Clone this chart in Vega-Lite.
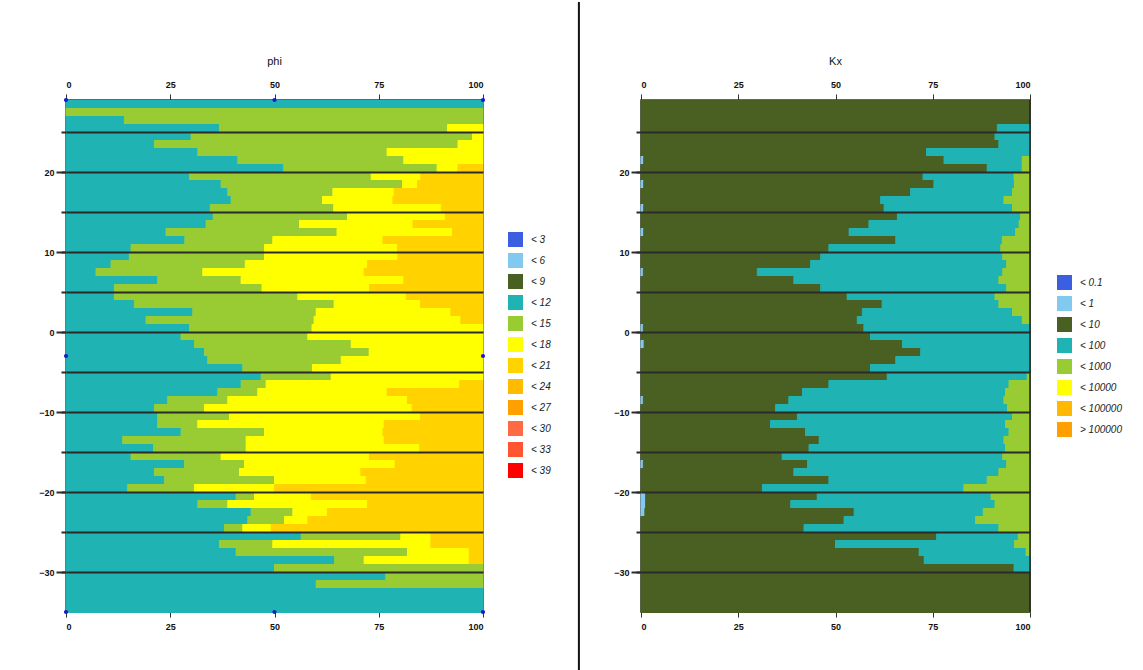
{
"$schema":"https://vega.github.io/schema/vega-lite/v6.json",
"background":"white",
"padding":{"left":37,"top":0,"right":0,"bottom":0},
"bounds":"flush",
"spacing":158,
"datasets":{
"phi":[
{"d":28,"c":"< 12","v":100},
{"d":27,"c":"< 15","v":100},
{"d":26,"c":"< 12","v":14},{"d":26,"c":"< 15","v":86},
{"d":25,"c":"< 12","v":36.8},{"d":25,"c":"< 15","v":54.7},{"d":25,"c":"< 18","v":8.5},
{"d":24,"c":"< 12","v":30},{"d":24,"c":"< 15","v":67.5},{"d":24,"c":"< 18","v":2.5},
{"d":23,"c":"< 12","v":21.2},{"d":23,"c":"< 15","v":72.8},{"d":23,"c":"< 18","v":6},
{"d":22,"c":"< 12","v":31.6},{"d":22,"c":"< 15","v":45.4},{"d":22,"c":"< 18","v":23},
{"d":21,"c":"< 12","v":41.2},{"d":21,"c":"< 15","v":39.8},{"d":21,"c":"< 18","v":19},
{"d":20,"c":"< 12","v":52.2},{"d":20,"c":"< 15","v":36.8},{"d":20,"c":"< 18","v":5},{"d":20,"c":"< 21","v":6},
{"d":19,"c":"< 12","v":29.6},{"d":19,"c":"< 15","v":43.6},{"d":19,"c":"< 18","v":11.9},{"d":19,"c":"< 21","v":14.9},
{"d":18,"c":"< 12","v":37.2},{"d":18,"c":"< 15","v":43.5},{"d":18,"c":"< 18","v":3.6},{"d":18,"c":"< 21","v":15.7},
{"d":17,"c":"< 12","v":38.8},{"d":17,"c":"< 15","v":25.2},{"d":17,"c":"< 18","v":14.7},{"d":17,"c":"< 21","v":21.3},
{"d":16,"c":"< 12","v":39.6},{"d":16,"c":"< 15","v":21.9},{"d":16,"c":"< 18","v":16.9},{"d":16,"c":"< 21","v":21.6},
{"d":15,"c":"< 12","v":34.6},{"d":15,"c":"< 15","v":29.6},{"d":15,"c":"< 18","v":25.8},{"d":15,"c":"< 21","v":10},
{"d":14,"c":"< 12","v":35.3},{"d":14,"c":"< 15","v":32.2},{"d":14,"c":"< 18","v":23.5},{"d":14,"c":"< 21","v":9},
{"d":13,"c":"< 12","v":33.6},{"d":13,"c":"< 15","v":22.4},{"d":13,"c":"< 18","v":27.2},{"d":13,"c":"< 21","v":16.8},
{"d":12,"c":"< 12","v":24},{"d":12,"c":"< 15","v":41},{"d":12,"c":"< 18","v":27.7},{"d":12,"c":"< 21","v":7.3},
{"d":11,"c":"< 12","v":28.5},{"d":11,"c":"< 15","v":21.1},{"d":11,"c":"< 18","v":26.4},{"d":11,"c":"< 21","v":24},
{"d":10,"c":"< 12","v":15.6},{"d":10,"c":"< 15","v":32},{"d":10,"c":"< 18","v":31.9},{"d":10,"c":"< 21","v":20.5},
{"d":9,"c":"< 12","v":15.2},{"d":9,"c":"< 15","v":32.4},{"d":9,"c":"< 18","v":32},{"d":9,"c":"< 21","v":20.4},
{"d":8,"c":"< 12","v":10.8},{"d":8,"c":"< 15","v":32.2},{"d":8,"c":"< 18","v":29.3},{"d":8,"c":"< 21","v":27.7},
{"d":7,"c":"< 12","v":7.2},{"d":7,"c":"< 15","v":25.6},{"d":7,"c":"< 18","v":38.7},{"d":7,"c":"< 21","v":28.5},
{"d":6,"c":"< 12","v":22},{"d":6,"c":"< 15","v":20},{"d":6,"c":"< 18","v":39},{"d":6,"c":"< 21","v":19},
{"d":5,"c":"< 12","v":11.6},{"d":5,"c":"< 15","v":35.4},{"d":5,"c":"< 18","v":25.8},{"d":5,"c":"< 21","v":27.2},
{"d":4,"c":"< 12","v":11.6},{"d":4,"c":"< 15","v":44},{"d":4,"c":"< 18","v":26},{"d":4,"c":"< 21","v":18.4},
{"d":3,"c":"< 12","v":16.4},{"d":3,"c":"< 15","v":47.9},{"d":3,"c":"< 18","v":20.7},{"d":3,"c":"< 21","v":15},
{"d":2,"c":"< 12","v":30.4},{"d":2,"c":"< 15","v":29.6},{"d":2,"c":"< 18","v":32.3},{"d":2,"c":"< 21","v":7.7},
{"d":1,"c":"< 12","v":19.2},{"d":1,"c":"< 15","v":40.3},{"d":1,"c":"< 18","v":35.2},{"d":1,"c":"< 21","v":5.3},
{"d":0,"c":"< 12","v":29.6},{"d":0,"c":"< 15","v":29.4},{"d":0,"c":"< 18","v":41},
{"d":-1,"c":"< 12","v":27.6},{"d":-1,"c":"< 15","v":30.4},{"d":-1,"c":"< 18","v":42},
{"d":-2,"c":"< 12","v":30.8},{"d":-2,"c":"< 15","v":37.6},{"d":-2,"c":"< 18","v":31.6},
{"d":-3,"c":"< 12","v":33.2},{"d":-3,"c":"< 15","v":39.5},{"d":-3,"c":"< 18","v":27.3},
{"d":-4,"c":"< 12","v":34},{"d":-4,"c":"< 15","v":32},{"d":-4,"c":"< 18","v":34},
{"d":-5,"c":"< 12","v":42.4},{"d":-5,"c":"< 15","v":16.7},{"d":-5,"c":"< 18","v":40.9},
{"d":-6,"c":"< 12","v":46.8},{"d":-6,"c":"< 15","v":16.8},{"d":-6,"c":"< 18","v":36.4},
{"d":-7,"c":"< 12","v":42},{"d":-7,"c":"< 15","v":6},{"d":-7,"c":"< 18","v":46.4},{"d":-7,"c":"< 21","v":5.6},
{"d":-8,"c":"< 12","v":36.4},{"d":-8,"c":"< 15","v":9.6},{"d":-8,"c":"< 18","v":31},{"d":-8,"c":"< 21","v":23},
{"d":-9,"c":"< 12","v":24.4},{"d":-9,"c":"< 15","v":14.4},{"d":-9,"c":"< 18","v":43.1},{"d":-9,"c":"< 21","v":18.1},
{"d":-10,"c":"< 12","v":21.2},{"d":-10,"c":"< 15","v":12},{"d":-10,"c":"< 18","v":49.8},{"d":-10,"c":"< 21","v":17},
{"d":-11,"c":"< 12","v":22},{"d":-11,"c":"< 15","v":17.2},{"d":-11,"c":"< 18","v":45.8},{"d":-11,"c":"< 21","v":15},
{"d":-12,"c":"< 12","v":22},{"d":-12,"c":"< 15","v":9.6},{"d":-12,"c":"< 18","v":44.7},{"d":-12,"c":"< 21","v":23.7},
{"d":-13,"c":"< 12","v":27.6},{"d":-13,"c":"< 15","v":20},{"d":-13,"c":"< 18","v":28.4},{"d":-13,"c":"< 21","v":24},
{"d":-14,"c":"< 12","v":13.6},{"d":-14,"c":"< 15","v":29.6},{"d":-14,"c":"< 18","v":33.1},{"d":-14,"c":"< 21","v":23.7},
{"d":-15,"c":"< 12","v":21},{"d":-15,"c":"< 15","v":22.2},{"d":-15,"c":"< 18","v":41.6},{"d":-15,"c":"< 21","v":15.2},
{"d":-16,"c":"< 12","v":15.6},{"d":-16,"c":"< 15","v":21.6},{"d":-16,"c":"< 18","v":35.6},{"d":-16,"c":"< 21","v":27.2},
{"d":-17,"c":"< 12","v":28.4},{"d":-17,"c":"< 15","v":14.4},{"d":-17,"c":"< 18","v":36.1},{"d":-17,"c":"< 21","v":21.1},
{"d":-18,"c":"< 12","v":21.2},{"d":-18,"c":"< 15","v":20.4},{"d":-18,"c":"< 18","v":29.1},{"d":-18,"c":"< 21","v":29.3},
{"d":-19,"c":"< 12","v":23.6},{"d":-19,"c":"< 15","v":26.4},{"d":-19,"c":"< 18","v":22},{"d":-19,"c":"< 21","v":28},
{"d":-20,"c":"< 12","v":14.8},{"d":-20,"c":"< 15","v":16},{"d":-20,"c":"< 18","v":19.2},{"d":-20,"c":"< 21","v":50},
{"d":-21,"c":"< 12","v":40.8},{"d":-21,"c":"< 15","v":4.4},{"d":-21,"c":"< 18","v":13.6},{"d":-21,"c":"< 21","v":41.2},
{"d":-22,"c":"< 12","v":31.6},{"d":-22,"c":"< 15","v":7.2},{"d":-22,"c":"< 18","v":33.5},{"d":-22,"c":"< 21","v":27.7},
{"d":-23,"c":"< 12","v":44.4},{"d":-23,"c":"< 15","v":10},{"d":-23,"c":"< 18","v":8.3},{"d":-23,"c":"< 21","v":37.3},
{"d":-24,"c":"< 12","v":43.6},{"d":-24,"c":"< 15","v":8.8},{"d":-24,"c":"< 18","v":5.6},{"d":-24,"c":"< 21","v":42},
{"d":-25,"c":"< 12","v":38},{"d":-25,"c":"< 15","v":4.4},{"d":-25,"c":"< 18","v":6.8},{"d":-25,"c":"< 21","v":50.8},
{"d":-26,"c":"< 12","v":56.4},{"d":-26,"c":"< 15","v":23.9},{"d":-26,"c":"< 18","v":7.2},{"d":-26,"c":"< 21","v":12.5},
{"d":-27,"c":"< 12","v":36.8},{"d":-27,"c":"< 15","v":12.8},{"d":-27,"c":"< 18","v":37.9},{"d":-27,"c":"< 21","v":12.5},
{"d":-28,"c":"< 12","v":40.8},{"d":-28,"c":"< 15","v":41.1},{"d":-28,"c":"< 18","v":14.8},{"d":-28,"c":"< 21","v":3.3},
{"d":-29,"c":"< 12","v":64.4},{"d":-29,"c":"< 15","v":7.1},{"d":-29,"c":"< 18","v":25.2},{"d":-29,"c":"< 21","v":3.3},
{"d":-30,"c":"< 12","v":50},{"d":-30,"c":"< 15","v":50},
{"d":-31,"c":"< 12","v":76.7},{"d":-31,"c":"< 15","v":23.3},
{"d":-32,"c":"< 12","v":60},{"d":-32,"c":"< 15","v":40},
{"d":-33,"c":"< 12","v":100},
{"d":-34,"c":"< 12","v":100},
{"d":-35,"c":"< 12","v":100}
],
"kx":[
{"d":28,"c":"< 10","v":100},
{"d":27,"c":"< 10","v":100},
{"d":26,"c":"< 10","v":100},
{"d":25,"c":"< 10","v":91.6},{"d":25,"c":"< 100","v":8.4},
{"d":24,"c":"< 10","v":91},{"d":24,"c":"< 100","v":9},
{"d":23,"c":"< 10","v":92},{"d":23,"c":"< 100","v":8},
{"d":22,"c":"< 10","v":73.4},{"d":22,"c":"< 100","v":26.6},
{"d":21,"c":"< 1","v":0.7},{"d":21,"c":"< 10","v":77.2},{"d":21,"c":"< 100","v":20.1},{"d":21,"c":"< 1000","v":2},
{"d":20,"c":"< 10","v":89},{"d":20,"c":"< 100","v":9},{"d":20,"c":"< 1000","v":2},
{"d":19,"c":"< 10","v":72.5},{"d":19,"c":"< 100","v":23.4},{"d":19,"c":"< 1000","v":4.1},
{"d":18,"c":"< 1","v":0.7},{"d":18,"c":"< 10","v":74.6},{"d":18,"c":"< 100","v":20.7},{"d":18,"c":"< 1000","v":4},
{"d":17,"c":"< 10","v":69.3},{"d":17,"c":"< 100","v":26.2},{"d":17,"c":"< 1000","v":4.5},
{"d":16,"c":"< 10","v":61.6},{"d":16,"c":"< 100","v":31.7},{"d":16,"c":"< 1000","v":6.7},
{"d":15,"c":"< 1","v":0.7},{"d":15,"c":"< 10","v":61.8},{"d":15,"c":"< 100","v":33},{"d":15,"c":"< 1000","v":4.5},
{"d":14,"c":"< 10","v":65.9},{"d":14,"c":"< 100","v":31.7},{"d":14,"c":"< 1000","v":2.4},
{"d":13,"c":"< 10","v":58.6},{"d":13,"c":"< 100","v":38.6},{"d":13,"c":"< 1000","v":2.8},
{"d":12,"c":"< 1","v":0.7},{"d":12,"c":"< 10","v":52.8},{"d":12,"c":"< 100","v":42.8},{"d":12,"c":"< 1000","v":3.7},
{"d":11,"c":"< 10","v":65.5},{"d":11,"c":"< 100","v":27.4},{"d":11,"c":"< 1000","v":7.1},
{"d":10,"c":"< 10","v":48.3},{"d":10,"c":"< 100","v":44.2},{"d":10,"c":"< 1000","v":7.5},
{"d":9,"c":"< 10","v":46.2},{"d":9,"c":"< 100","v":46.8},{"d":9,"c":"< 1000","v":7},
{"d":8,"c":"< 10","v":43.6},{"d":8,"c":"< 100","v":50.4},{"d":8,"c":"< 1000","v":6},
{"d":7,"c":"< 1","v":0.6},{"d":7,"c":"< 10","v":29.3},{"d":7,"c":"< 100","v":63.1},{"d":7,"c":"< 1000","v":7},
{"d":6,"c":"< 10","v":39.3},{"d":6,"c":"< 100","v":52.7},{"d":6,"c":"< 1000","v":8},
{"d":5,"c":"< 10","v":46.2},{"d":5,"c":"< 100","v":47.8},{"d":5,"c":"< 1000","v":6},
{"d":4,"c":"< 10","v":53},{"d":4,"c":"< 100","v":38},{"d":4,"c":"< 1000","v":9},
{"d":3,"c":"< 10","v":62},{"d":3,"c":"< 100","v":30},{"d":3,"c":"< 1000","v":8},
{"d":2,"c":"< 10","v":56.9},{"d":2,"c":"< 100","v":38.6},{"d":2,"c":"< 1000","v":4.5},
{"d":1,"c":"< 10","v":55.6},{"d":1,"c":"< 100","v":42.4},{"d":1,"c":"< 1000","v":2},
{"d":0,"c":"< 1","v":0.6},{"d":0,"c":"< 10","v":56.7},{"d":0,"c":"< 100","v":42.7},
{"d":-1,"c":"< 10","v":59},{"d":-1,"c":"< 100","v":41},
{"d":-2,"c":"< 1","v":0.8},{"d":-2,"c":"< 10","v":66.4},{"d":-2,"c":"< 100","v":32.8},
{"d":-3,"c":"< 10","v":71.9},{"d":-3,"c":"< 100","v":28.1},
{"d":-4,"c":"< 10","v":65.5},{"d":-4,"c":"< 100","v":34.5},
{"d":-5,"c":"< 10","v":59},{"d":-5,"c":"< 100","v":41},
{"d":-6,"c":"< 10","v":63.3},{"d":-6,"c":"< 100","v":36},{"d":-6,"c":"< 1000","v":0.7},
{"d":-7,"c":"< 10","v":48.3},{"d":-7,"c":"< 100","v":46.3},{"d":-7,"c":"< 1000","v":5.4},
{"d":-8,"c":"< 10","v":41.5},{"d":-8,"c":"< 100","v":52.2},{"d":-8,"c":"< 1000","v":6.3},
{"d":-9,"c":"< 1","v":0.6},{"d":-9,"c":"< 10","v":37.4},{"d":-9,"c":"< 100","v":55.3},{"d":-9,"c":"< 1000","v":6.7},
{"d":-10,"c":"< 10","v":34.6},{"d":-10,"c":"< 100","v":59.6},{"d":-10,"c":"< 1000","v":5.8},
{"d":-11,"c":"< 10","v":40.2},{"d":-11,"c":"< 100","v":55.3},{"d":-11,"c":"< 1000","v":4.5},
{"d":-12,"c":"< 10","v":33.3},{"d":-12,"c":"< 100","v":60.4},{"d":-12,"c":"< 1000","v":6.3},
{"d":-13,"c":"< 10","v":42.3},{"d":-13,"c":"< 100","v":52.3},{"d":-13,"c":"< 1000","v":5.4},
{"d":-14,"c":"< 10","v":45.8},{"d":-14,"c":"< 100","v":47.5},{"d":-14,"c":"< 1000","v":6.7},
{"d":-15,"c":"< 10","v":43.2},{"d":-15,"c":"< 100","v":50.5},{"d":-15,"c":"< 1000","v":6.3},
{"d":-16,"c":"< 10","v":36.3},{"d":-16,"c":"< 100","v":56.7},{"d":-16,"c":"< 1000","v":7},
{"d":-17,"c":"< 1","v":0.6},{"d":-17,"c":"< 10","v":42.2},{"d":-17,"c":"< 100","v":51.2},{"d":-17,"c":"< 1000","v":6},
{"d":-18,"c":"< 10","v":39.3},{"d":-18,"c":"< 100","v":52.7},{"d":-18,"c":"< 1000","v":8},
{"d":-19,"c":"< 10","v":48.3},{"d":-19,"c":"< 100","v":40.7},{"d":-19,"c":"< 1000","v":11},
{"d":-20,"c":"< 10","v":31.2},{"d":-20,"c":"< 100","v":51.8},{"d":-20,"c":"< 1000","v":17},
{"d":-21,"c":"< 1","v":1.2},{"d":-21,"c":"< 10","v":44.1},{"d":-21,"c":"< 100","v":44.7},{"d":-21,"c":"< 1000","v":10},
{"d":-22,"c":"< 1","v":1.2},{"d":-22,"c":"< 10","v":37.3},{"d":-22,"c":"< 100","v":52.5},{"d":-22,"c":"< 1000","v":9},
{"d":-23,"c":"< 1","v":1},{"d":-23,"c":"< 10","v":53.8},{"d":-23,"c":"< 100","v":33.2},{"d":-23,"c":"< 1000","v":12},
{"d":-24,"c":"< 10","v":52.2},{"d":-24,"c":"< 100","v":33.8},{"d":-24,"c":"< 1000","v":14},
{"d":-25,"c":"< 10","v":41.9},{"d":-25,"c":"< 100","v":50.1},{"d":-25,"c":"< 1000","v":8},
{"d":-26,"c":"< 10","v":76},{"d":-26,"c":"< 100","v":21},{"d":-26,"c":"< 1000","v":3},
{"d":-27,"c":"< 10","v":50},{"d":-27,"c":"< 100","v":46},{"d":-27,"c":"< 1000","v":4},
{"d":-28,"c":"< 10","v":71.5},{"d":-28,"c":"< 100","v":27.5},{"d":-28,"c":"< 1000","v":1},
{"d":-29,"c":"< 10","v":72.8},{"d":-29,"c":"< 100","v":27.2},
{"d":-30,"c":"< 10","v":95.9},{"d":-30,"c":"< 100","v":4.1},
{"d":-31,"c":"< 10","v":100},
{"d":-32,"c":"< 10","v":100},
{"d":-33,"c":"< 10","v":100},
{"d":-34,"c":"< 10","v":100},
{"d":-35,"c":"< 10","v":100}
]
},
"hconcat":[
{
"width":417,"height":512,
"resolve":{"axis":{"x":"independent","y":"independent"}},
"layer":[
{
"data":{"name":"phi"},
"transform":[{"stack":"v","groupby":["d"],"sort":[{"field":"c"}],"as":["x0","x1"]}],
"mark":{"type":"bar","binSpacing":0,"strokeWidth":1},
"encoding":{
"x":{"field":"x0","type":"quantitative","scale":{"domain":[0,100],"nice":false,"zero":false},"axis":{"orient":"bottom","values":[0,25,50,75,100],"grid":false,"tickSize":5,"labelPadding":5}},
"x2":{"field":"x1"},
"y":{"field":"d","type":"quantitative","bin":{"binned":true,"step":1},"scale":{"domain":[-35,29],"nice":false,"zero":false},"axis":{"orient":"left","values":[-30,-25,-20,-15,-10,-5,0,5,10,15,20,25],"grid":true,"gridColor":"#2b2b2b","gridWidth":2,"gridOpacity":1,"tickSize":5,"tickWidth":2,"tickColor":"#2b2b2b","labels":false,"zindex":1}},
"color":{"field":"c","type":"nominal","scale":{"domain":["< 3","< 6","< 9","< 12","< 15","< 18","< 21","< 24","< 27","< 30","< 33","< 39"],"range":["#3b5fe0","#82c9ef","#4a5f22","#1fb3b3","#99cc33","#ffff00","#ffd200","#ffbb00","#ffa000","#ff6a45","#ff5533","#ff0000"]},"legend":{"orient":"none","legendX":442,"legendY":132}},
"stroke":{"field":"c","type":"nominal","scale":{"domain":["< 3","< 6","< 9","< 12","< 15","< 18","< 21","< 24","< 27","< 30","< 33","< 39"],"range":["#3b5fe0","#82c9ef","#4a5f22","#1fb3b3","#99cc33","#ffff00","#ffd200","#ffbb00","#ffa000","#ff6a45","#ff5533","#ff0000"]},"legend":null}
}
},
{
"data":{"values":[{}]},
"mark":{"type":"rule","clip":false,"color":"#111111","strokeWidth":2},
"encoding":{
"x":{"datum":123,"type":"quantitative","scale":{"domain":[0,100],"nice":false,"zero":false},"axis":{"orient":"top","values":[0,25,50,75,100],"grid":false,"tickSize":6,"labelPadding":5}},
"y":{"datum":41.25,"type":"quantitative","axis":{"orient":"left","values":[-30,-20,-10,0,10,20],"grid":false,"tickSize":10,"tickWidth":2,"tickColor":"#2b2b2b","labelPadding":2}},
"y2":{"datum":-42.5}
}
},
{
"data":{"values":[{"hx":0,"hy":29},{"hx":50,"hy":29},{"hx":100,"hy":29},{"hx":0,"hy":-3},{"hx":100,"hy":-3},{"hx":0,"hy":-35},{"hx":50,"hy":-35},{"hx":100,"hy":-35}]},
"mark":{"type":"point","filled":true,"clip":false,"color":"#1a1acc","size":18,"opacity":1},
"encoding":{
"x":{"field":"hx","type":"quantitative","axis":null},
"y":{"field":"hy","type":"quantitative","axis":null}
}
},
{
"data":{"values":[{"t":"phi"}]},
"mark":{"type":"text","clip":false,"font":"Liberation Sans","fontSize":11,"color":"#111111","baseline":"middle","align":"center","dy":-38},
"encoding":{
"x":{"datum":50,"type":"quantitative","axis":null},
"y":{"datum":29,"type":"quantitative","axis":null},
"text":{"field":"t"}
}
}
]
},
{
"width":389,"height":512,
"resolve":{"axis":{"x":"independent","y":"independent"}},
"layer":[
{
"data":{"name":"kx"},
"transform":[{"stack":"v","groupby":["d"],"sort":[{"field":"c"}],"as":["x0","x1"]}],
"mark":{"type":"bar","binSpacing":0,"strokeWidth":1},
"encoding":{
"x":{"field":"x0","type":"quantitative","scale":{"domain":[0,100],"nice":false,"zero":false},"axis":{"orient":"bottom","values":[0,25,50,75,100],"grid":false,"tickSize":5,"labelPadding":5}},
"x2":{"field":"x1"},
"y":{"field":"d","type":"quantitative","bin":{"binned":true,"step":1},"scale":{"domain":[-35,29],"nice":false,"zero":false},"axis":{"orient":"left","values":[-30,-25,-20,-15,-10,-5,0,5,10,15,20,25],"grid":true,"gridColor":"#2b2b2b","gridWidth":2,"gridOpacity":1,"tickSize":5,"tickWidth":2,"tickColor":"#2b2b2b","labels":false,"zindex":1}},
"color":{"field":"c","type":"nominal","scale":{"domain":["< 0.1","< 1","< 10","< 100","< 1000","< 10000","< 100000","> 100000"],"range":["#3b5fe0","#82c9ef","#4a5f22","#1fb3b3","#99cc33","#ffff00","#ffb800","#ffa000"]},"legend":{"orient":"none","legendX":416,"legendY":175}},
"stroke":{"field":"c","type":"nominal","scale":{"domain":["< 0.1","< 1","< 10","< 100","< 1000","< 10000","< 100000","> 100000"],"range":["#3b5fe0","#82c9ef","#4a5f22","#1fb3b3","#99cc33","#ffff00","#ffb800","#ffa000"]},"legend":null}
}
},
{
"data":{"values":[{}]},
"mark":{"type":"rule","clip":false,"color":"#222222","strokeWidth":1.5},
"encoding":{
"x":{"datum":100,"type":"quantitative","scale":{"domain":[0,100],"nice":false,"zero":false},"axis":{"orient":"top","values":[0,25,50,75,100],"grid":false,"tickSize":6,"labelPadding":5}},
"y":{"datum":-35,"type":"quantitative","axis":{"orient":"left","values":[-30,-20,-10,0,10,20],"grid":false,"tickSize":10,"tickWidth":2,"tickColor":"#2b2b2b","labelPadding":2}},
"y2":{"datum":29}
}
},
{
"data":{"values":[{"t":"Kx"}]},
"mark":{"type":"text","clip":false,"font":"Liberation Sans","fontSize":11,"color":"#111111","baseline":"middle","align":"center","dy":-38},
"encoding":{
"x":{"datum":50,"type":"quantitative","axis":null},
"y":{"datum":29,"type":"quantitative","axis":null},
"text":{"field":"t"}
}
}
]
}
],
"resolve":{"scale":{"color":"independent","stroke":"independent"}},
"config":{
"font":"Liberation Sans",
"view":{"stroke":"#333333","strokeWidth":1.5},
"axis":{"title":null,"domain":false,"labelFont":"Liberation Sans","labelFontSize":9,"labelFontWeight":"bold","labelColor":"#111111","tickColor":"#333333"},
"legend":{"title":null,"symbolType":"square","symbolSize":225,"symbolStrokeWidth":0,"rowPadding":6,"labelOffset":8,"labelFont":"Liberation Sans","labelFontSize":10,"labelFontStyle":"italic","labelColor":"#222222","padding":0}
}
}
